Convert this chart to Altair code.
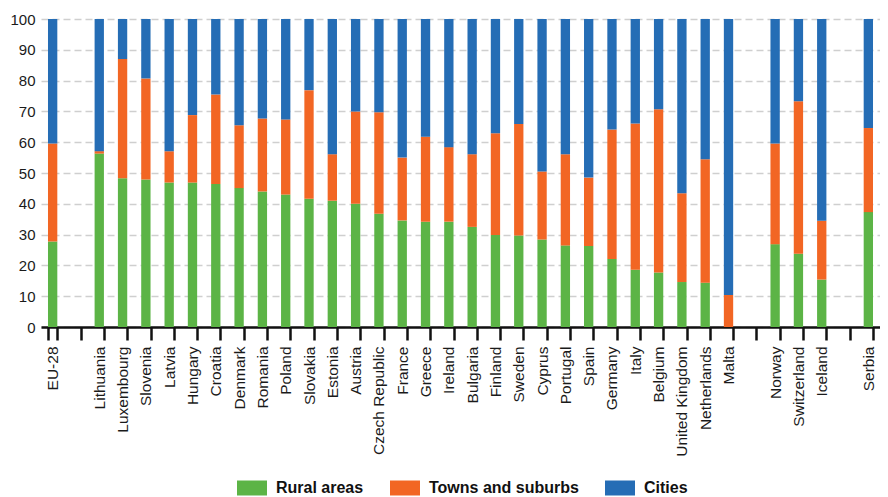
import altair as alt
import pandas as pd

countries = ["EU-28", "Lithuania", "Luxembourg", "Slovenia", "Latvia", "Hungary", "Croatia",
             "Denmark", "Romania", "Poland", "Slovakia", "Estonia", "Austria", "Czech Republic",
             "France", "Greece", "Ireland", "Bulgaria", "Finland", "Sweden", "Cyprus", "Portugal",
             "Spain", "Germany", "Italy", "Belgium", "United Kingdom", "Netherlands", "Malta",
             "Norway", "Switzerland", "Iceland", "Serbia"]

# axis order, with blank slots separating the groups
x_domain = ["EU-28", " ", "Lithuania", "Luxembourg", "Slovenia", "Latvia", "Hungary", "Croatia",
            "Denmark", "Romania", "Poland", "Slovakia", "Estonia", "Austria", "Czech Republic",
            "France", "Greece", "Ireland", "Bulgaria", "Finland", "Sweden", "Cyprus", "Portugal",
            "Spain", "Germany", "Italy", "Belgium", "United Kingdom", "Netherlands", "Malta",
            "  ", "Norway", "Switzerland", "Iceland", "   ", "Serbia"]

rural = [27.8, 56.3, 48.3, 47.9, 46.9, 46.9, 46.4, 45.1, 44.0, 43.0, 41.6, 41.0, 40.0, 36.8,
         34.6, 34.2, 34.2, 32.5, 29.9, 29.7, 28.4, 26.5, 26.3, 22.1, 18.6, 17.7, 14.6, 14.4,
         0.0, 26.9, 23.8, 15.4, 37.3]
towns = [31.8, 0.8, 38.7, 32.8, 10.2, 21.9, 29.1, 20.4, 23.7, 24.4, 35.3, 15.1, 30.0, 32.9,
         20.4, 27.6, 24.2, 23.6, 33.0, 36.2, 22.1, 29.6, 22.2, 42.0, 47.5, 53.0, 28.8, 40.1,
         10.4, 32.7, 49.5, 19.1, 27.3]
cities = [40.4, 42.9, 13.0, 19.3, 42.9, 31.2, 24.5, 34.5, 32.3, 32.6, 23.1, 43.9, 30.0, 30.3,
          45.0, 38.2, 41.6, 43.9, 37.1, 34.1, 49.5, 43.9, 51.5, 35.9, 33.9, 29.3, 56.6, 45.5,
          89.6, 40.4, 26.7, 65.5, 35.4]

components = ["Rural areas", "Towns and suburbs", "Cities"]
colors = ["#5cb446", "#f26624", "#256db5"]

rows = []
for series_idx, (name, vals) in enumerate(zip(components, [rural, towns, cities])):
    for c, v in zip(countries, vals):
        rows.append({"country": c, "component": name, "value": v, "ord": series_idx})
df = pd.DataFrame(rows)

chart = alt.Chart(df).mark_bar().encode(
    x=alt.X("country:N", sort=x_domain,
            scale=alt.Scale(domain=x_domain, paddingInner=0.6, paddingOuter=0.3),
            axis=alt.Axis(title=None, labelAngle=270, tickBand="extent", grid=False,
                          domainColor="#111111", domainWidth=2.5, tickColor="#111111",
                          tickWidth=2.5, tickSize=13, labelPadding=6,
                          labelFont="Liberation Sans", labelFontSize=15.5,
                          labelColor="#1a1a1a", labelAlign="right", labelBaseline="middle")),
    y=alt.Y("value:Q", stack="zero", scale=alt.Scale(domain=[0, 100], nice=False),
            axis=alt.Axis(title=None, values=list(range(0, 101, 10)), domain=False, ticks=False,
                          grid=True, gridDash=[7, 4], gridColor="#cfcfcf", gridWidth=1.6,
                          labelFont="Liberation Sans", labelFontSize=15, labelColor="#1a1a1a",
                          labelPadding=6)),
    color=alt.Color("component:N", scale=alt.Scale(domain=components, range=colors),
                    legend=alt.Legend(title=None, orient="none", direction="horizontal",
                                      legendX=196, legendY=454,
                                      symbolType="M-1,-0.5H1V0.5H-1Z", symbolSize=900,
                                      symbolStrokeWidth=0, symbolOpacity=1,
                                      labelFont="Liberation Sans", labelFontWeight="bold",
                                      labelFontSize=16, labelColor="#111111",
                                      labelOffset=9, columnPadding=26, labelLimit=300)),
    order=alt.Order("ord:Q"),
).properties(
    width=839, height=308,
    autosize=alt.AutoSizeParams(type="none"),
    padding={"left": 33, "top": 11, "right": 0, "bottom": 170},
).configure_view(stroke=None)

chart.save("out.html", embed_options={"renderer": "svg", "actions": False})
